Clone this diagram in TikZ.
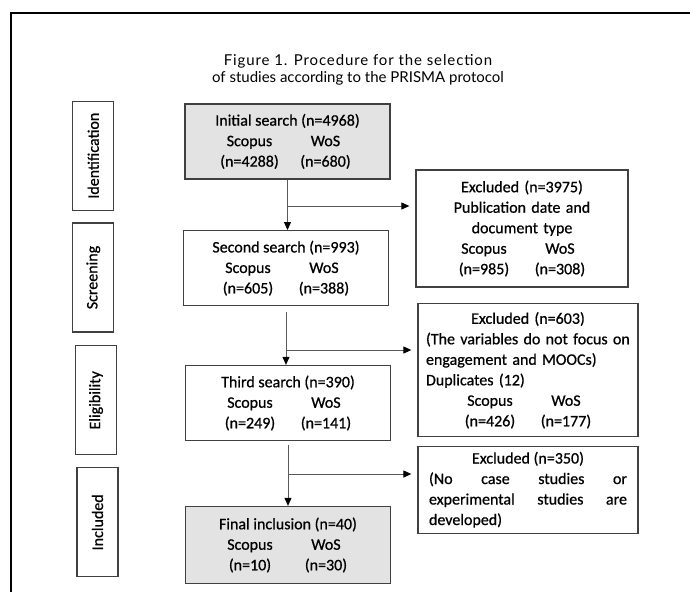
\documentclass[tikz,border=0pt]{standalone}
\usepackage{fontspec}
\setmainfont{Carlito}[FakeBold=0.7]
\newfontfamily\titlefont{Lato}
\usetikzlibrary{arrows.meta}
\setlength{\parindent}{0pt}
\newcommand{\pair}[2]{\makebox[76pt]{#1}\makebox[76pt]{#2}}
\tikzset{
  txt/.style={font=\fontsize{16}{20.5}\selectfont},
  stage/.style={txt,draw=black!75,line width=1.3pt,rotate=90,inner sep=0pt,minimum height=41pt,minimum width=109pt},
  search/.style={txt,draw=black!75,line width=1.3pt,inner sep=0pt,minimum width=205pt,minimum height=75pt,align=center},
  found/.style={search,fill=black!11},
  excl/.style={txt,draw=black!75,line width=1.3pt,inner sep=0pt,text width=204pt},
  flow/.style={draw=black!65,line width=1pt,-{Triangle[length=8pt,width=7pt,color=black]}}
}
\begin{document}
\begin{tikzpicture}[x=1pt,y=-1pt]
  \useasboundingbox (0,0) rectangle (690,592);
  \draw[line width=1.3pt] (11,592) -- (11,13) -- (690,13);
  \node[font=\titlefont\fontsize{15}{17}\selectfont,align=center] (title) at (358,70)
    {{\addfontfeature{LetterSpace=6}Figure 1. Procedure for the selection}\\of studies according to the PRISMA protocol};
  % stages
  \node[stage] (ident) at (93.3,155.7) {Identification};
  \node[stage] (screen) at (93.3,277.5) {Screening};
  \node[stage] (elig) at (96,400.3) {Eligibility};
  \node[stage] (incl) at (97.5,522.3) {Included};
  % searches
  \node[found] (init) at (287.5,141.4) {Initial search (n=4968)\\ \pair{Scopus}{WoS}\\ \pair{(n=4288)}{(n=680)}};
  \node[search] (second) at (286,268.2) {Second search (n=993)\\ \pair{Scopus}{WoS}\\ \pair{(n=605)}{(n=388)}};
  \node[search] (third) at (288,403) {Third search (n=390)\\ \pair{Scopus}{WoS}\\ \pair{(n=249)}{(n=141)}};
  \node[found,minimum height=77pt] (final) at (288,545) {Final inclusion (n=40)\\ \pair{Scopus}{WoS}\\ \pair{(n=10)}{(n=30)}};
  % exclusions
  \node[excl,align=center,minimum width=212pt,minimum height=117pt] (ex1) at (522,228.5)
    {Excluded (n=3975)\\ Publication date and\\ document type\\ \pair{Scopus}{WoS}\\ \pair{(n=985)}{(n=308)}};
  \node[excl,minimum width=220pt,minimum height=133pt] (ex2) at (528,370.3)
    {{\centering Excluded (n=603)\par}(The variables do not focus on\newline engagement and MOOCs)\newline Duplicates (12)\par
     {\centering\pair{Scopus}{WoS}\par\pair{(n=426)}{(n=177)}\par}};
  \node[excl,text width=198pt,align=justify,minimum width=220pt,minimum height=87pt] (ex3) at (528,489.7)
    {{\centering Excluded (n=350)\par}(No case studies or\linebreak experimental studies are\linebreak developed)};
  % flow
  \coordinate (b1) at (287.5,206);
  \coordinate (b2) at (286,350);
  \coordinate (b3) at (288,474);
  \draw[flow] (init.south) -- (init.south |- second.north);
  \draw[flow,shorten >=6pt] (b1) -- (b1 -| ex1.west);
  \draw[flow,shorten <=6pt] (second.south) -- (second.south |- third.north);
  \draw[flow,shorten >=6pt] (b2) -- (b2 -| ex2.west);
  \draw[flow,shorten <=4pt] (third.south) -- (third.south |- final.north);
  \draw[flow,shorten >=6pt] (b3) -- (b3 -| ex3.west);
\end{tikzpicture}
\end{document}
